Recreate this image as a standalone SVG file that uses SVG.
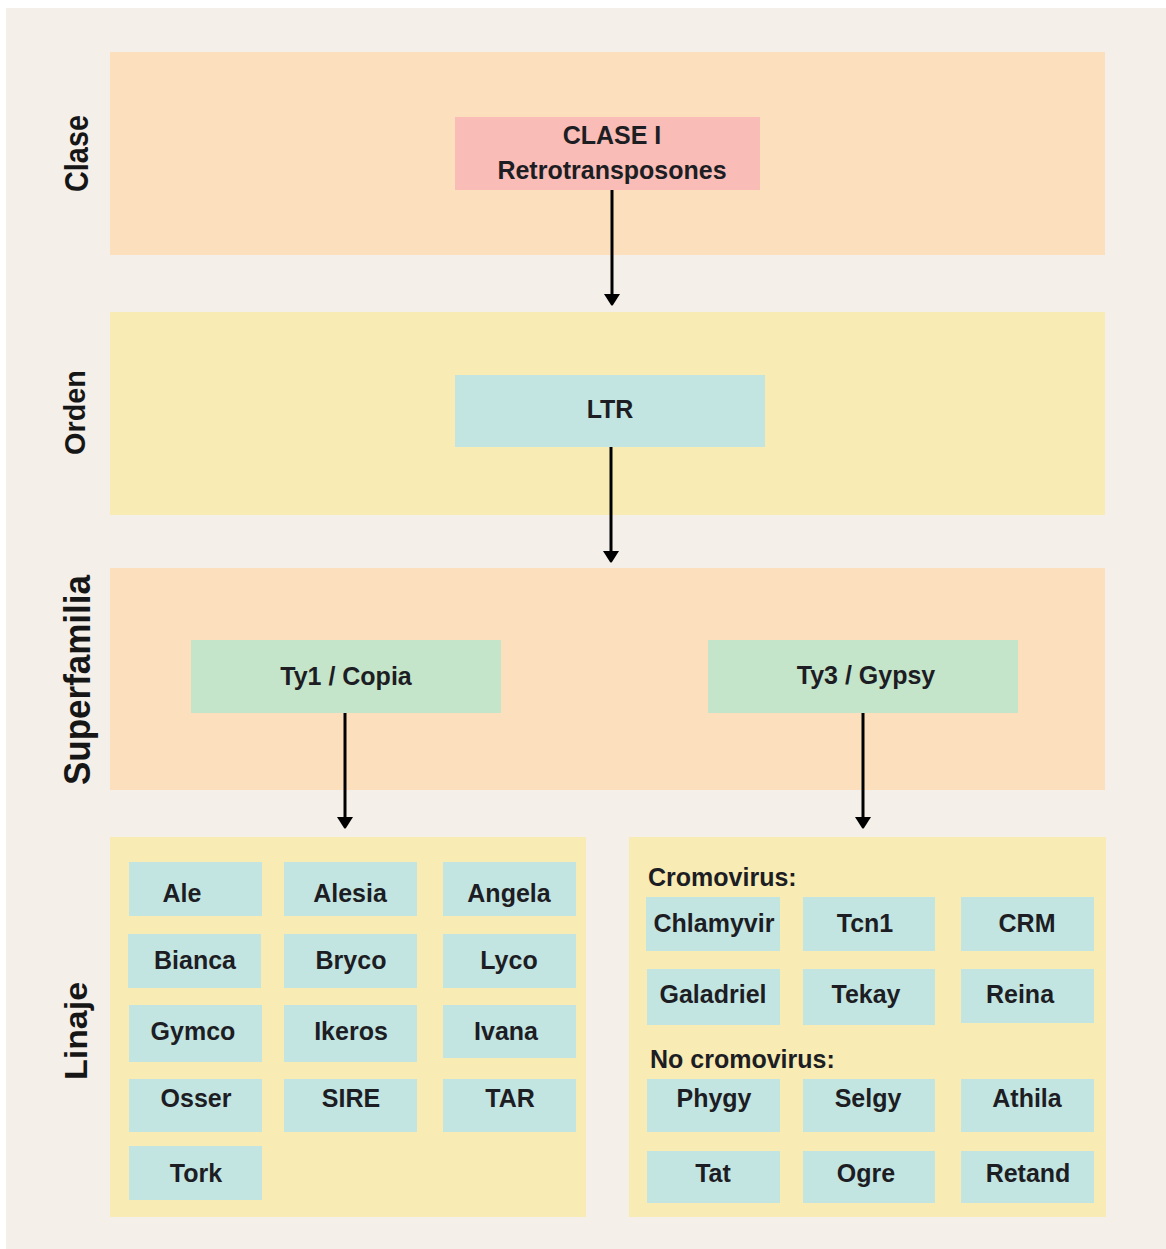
<svg xmlns="http://www.w3.org/2000/svg" width="1166" height="1249" viewBox="0 0 1166 1249">
  <style>
    .band-a { fill: #FCDFBC; }
    .band-b { fill: #F8EBB3; }
    .n-class { fill: #F9BCB6; }
    .n-order { fill: #C3E5E2; }
    .n-super { fill: #C4E5CA; }
    .n-line { fill: #C3E5E2; }
    .t { font-family: "Liberation Sans", Arial, sans-serif; font-weight: bold; font-size: 25px; fill: #1d1d24; text-anchor: middle; }
    .t-left { text-anchor: start; }
    .lvl { font-family: "Liberation Sans", Arial, sans-serif; font-weight: bold; fill: #161616; text-anchor: middle; }
    .edge { stroke: #000; stroke-width: 3; fill: none; }
  </style>
  <defs>
    <marker id="arrow" markerUnits="userSpaceOnUse" markerWidth="12" markerHeight="16" viewBox="0 0 12 16" refX="1" refY="8" orient="auto">
      <path d="M0,0 L11,7 Q12,8 11,9 L0,16 z" fill="#000"/>
    </marker>
  </defs>

  <!-- page -->
  <rect x="0" y="0" width="1166" height="1249" fill="#ffffff"/>
  <rect x="6" y="8" width="1160" height="1241" fill="#F4EFE9"/>

  <!-- level bands -->
  <g id="bands">
    <rect class="band-a" x="110" y="52" width="995" height="203"/>
    <rect class="band-b" x="110" y="312" width="995" height="203"/>
    <rect class="band-a" x="110" y="568" width="995" height="222"/>
    <rect class="band-b" x="110" y="837" width="476" height="380"/>
    <rect class="band-b" x="629" y="837" width="477" height="380"/>
  </g>

  <!-- level labels -->
  <g id="level-labels">
    <text class="lvl" font-size="34" textLength="77" lengthAdjust="spacingAndGlyphs" transform="translate(88,153.5) rotate(-90)">Clase</text>
    <text class="lvl" font-size="30" textLength="85" lengthAdjust="spacingAndGlyphs" transform="translate(85,412.5) rotate(-90)">Orden</text>
    <text class="lvl" font-size="37" textLength="210" lengthAdjust="spacingAndGlyphs" transform="translate(90,680) rotate(-90)">Superfamilia</text>
    <text class="lvl" font-size="31" textLength="98" lengthAdjust="spacingAndGlyphs" transform="translate(87,1031) rotate(-90)">Linaje</text>
  </g>

  <!-- connectors -->
  <g id="connectors">
    <line class="edge" x1="612" y1="190" x2="612" y2="295" marker-end="url(#arrow)"/>
    <line class="edge" x1="611" y1="447" x2="611" y2="552" marker-end="url(#arrow)"/>
    <line class="edge" x1="345" y1="713" x2="345" y2="818" marker-end="url(#arrow)"/>
    <line class="edge" x1="863" y1="713" x2="863" y2="818" marker-end="url(#arrow)"/>
  </g>

  <!-- hierarchy nodes -->
  <g id="clase-i">
    <rect class="n-class" x="455" y="117" width="305" height="73"/>
    <text class="t" x="612" y="144">CLASE I</text>
    <text class="t" x="612" y="179">Retrotransposones</text>
  </g>
  <g id="ltr">
    <rect class="n-order" x="455" y="375" width="310" height="72"/>
    <text class="t" x="610" y="418">LTR</text>
  </g>
  <g id="ty1-copia">
    <rect class="n-super" x="191" y="640" width="310" height="73"/>
    <text class="t" x="346" y="685">Ty1 / Copia</text>
  </g>
  <g id="ty3-gypsy">
    <rect class="n-super" x="708" y="640" width="310" height="73"/>
    <text class="t" x="866" y="684">Ty3 / Gypsy</text>
  </g>

  <!-- Ty1/Copia lineages -->
  <g id="ale"><rect class="n-line" x="129" y="862" width="133" height="54"/><text class="t" x="182" y="902">Ale</text></g>
  <g id="alesia"><rect class="n-line" x="284" y="862" width="133" height="54"/><text class="t" x="350" y="902">Alesia</text></g>
  <g id="angela"><rect class="n-line" x="443" y="862" width="133" height="54"/><text class="t" x="509" y="902">Angela</text></g>

  <g id="bianca"><rect class="n-line" x="128" y="934" width="133" height="54"/><text class="t" x="195" y="969">Bianca</text></g>
  <g id="bryco"><rect class="n-line" x="284" y="934" width="133" height="54"/><text class="t" x="351" y="969">Bryco</text></g>
  <g id="lyco"><rect class="n-line" x="443" y="934" width="133" height="54"/><text class="t" x="509" y="969">Lyco</text></g>

  <g id="gymco"><rect class="n-line" x="129" y="1005" width="133" height="57"/><text class="t" x="193" y="1040">Gymco</text></g>
  <g id="ikeros"><rect class="n-line" x="284" y="1005" width="133" height="57"/><text class="t" x="351" y="1040">Ikeros</text></g>
  <g id="ivana"><rect class="n-line" x="443" y="1005" width="133" height="53"/><text class="t" x="506" y="1040">Ivana</text></g>

  <g id="osser"><rect class="n-line" x="129" y="1079" width="133" height="53"/><text class="t" x="196" y="1107">Osser</text></g>
  <g id="sire"><rect class="n-line" x="284" y="1079" width="133" height="53"/><text class="t" x="351" y="1107">SIRE</text></g>
  <g id="tar"><rect class="n-line" x="443" y="1079" width="133" height="53"/><text class="t" x="510" y="1107">TAR</text></g>

  <g id="tork"><rect class="n-line" x="129" y="1146" width="133" height="54"/><text class="t" x="196" y="1182">Tork</text></g>

  <!-- Ty3/Gypsy lineages -->
  <g id="group-labels">
    <text class="t t-left" x="648" y="886">Cromovirus:</text>
    <text class="t t-left" x="650" y="1068">No cromovirus:</text>
  </g>

  <g id="chlamyvir"><rect class="n-line" x="646" y="897" width="134" height="54"/><text class="t" x="714" y="932">Chlamyvir</text></g>
  <g id="tcn1"><rect class="n-line" x="803" y="897" width="132" height="54"/><text class="t" x="865" y="932">Tcn1</text></g>
  <g id="crm"><rect class="n-line" x="961" y="897" width="133" height="54"/><text class="t" x="1027" y="932">CRM</text></g>

  <g id="galadriel"><rect class="n-line" x="647" y="969" width="133" height="56"/><text class="t" x="713" y="1003">Galadriel</text></g>
  <g id="tekay"><rect class="n-line" x="803" y="969" width="132" height="56"/><text class="t" x="866" y="1003">Tekay</text></g>
  <g id="reina"><rect class="n-line" x="961" y="969" width="133" height="54"/><text class="t" x="1020" y="1003">Reina</text></g>

  <g id="phygy"><rect class="n-line" x="647" y="1079" width="133" height="53"/><text class="t" x="714" y="1107">Phygy</text></g>
  <g id="selgy"><rect class="n-line" x="803" y="1079" width="132" height="53"/><text class="t" x="868" y="1107">Selgy</text></g>
  <g id="athila"><rect class="n-line" x="961" y="1079" width="133" height="53"/><text class="t" x="1027" y="1107">Athila</text></g>

  <g id="tat"><rect class="n-line" x="647" y="1151" width="133" height="52"/><text class="t" x="713" y="1182">Tat</text></g>
  <g id="ogre"><rect class="n-line" x="803" y="1151" width="132" height="52"/><text class="t" x="866" y="1182">Ogre</text></g>
  <g id="retand"><rect class="n-line" x="961" y="1151" width="133" height="52"/><text class="t" x="1028" y="1182">Retand</text></g>
</svg>
